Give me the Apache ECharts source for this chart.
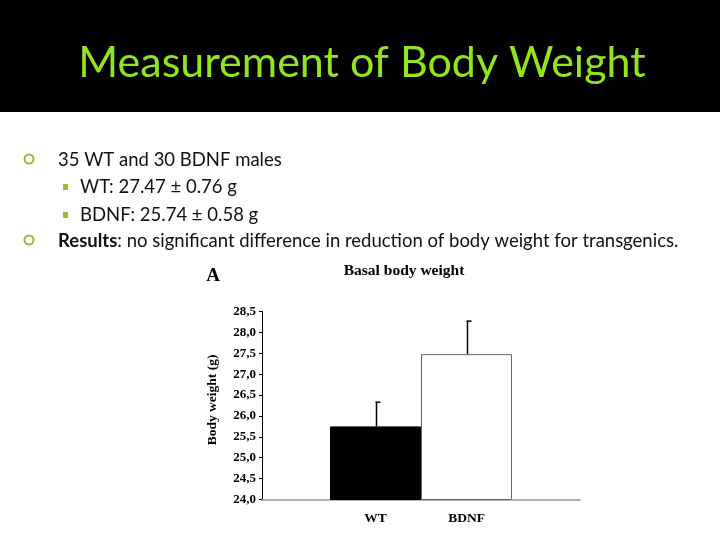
<!DOCTYPE html>
<html>
<head>
<meta charset="utf-8">
<script src="https://cdn.jsdelivr.net/npm/echarts@6/dist/echarts.min.js"></script>
<style>
  html, body { margin: 0; padding: 0; background: #fff; }
  #main { width: 720px; height: 540px; }
</style>
</head>
<body>
<div id="main"></div>
<script>
// 数据
const groups = ["WT", "BDNF"];
const meanWeight = [25.75, 27.48];
const errWeight = [0.58, 0.79];
const barColors = ["#000000", "#ffffff"];
const yTicks = [24.0, 24.5, 25.0, 25.5, 26.0, 26.5, 27.0, 27.5, 28.0, 28.5];

(() => {
  configWeightChart();
})();

// 配置体重柱状图
function configWeightChart() {
  const chart = echarts.init(document.getElementById("main"));
  const serif = "'Liberation Serif', 'DejaVu Serif', serif";
  const slideFont = "Lato, 'Open Sans', sans-serif";
  const bulletGreen = "#9cb83a";
  const bodyFont = "18.5px " + slideFont;

  const option = {
    backgroundColor: "#fff",
    animation: false,
    graphic: [
      // 标题栏
      { type: "rect", shape: { x: 0, y: 0, width: 720, height: 112 }, style: { fill: "#000" }, z: 0 },
      {
        type: "text", x: 362, y: 63,
        style: { text: "Measurement of Body Weight", font: "43px " + slideFont, fill: "#92e51c", align: "center", verticalAlign: "middle" },
      },
      // 要点
      { type: "circle", shape: { cx: 29, cy: 159, r: 4.5 }, style: { fill: "none", stroke: bulletGreen, lineWidth: 2 } },
      { type: "text", x: 58, y: 160, style: { text: "35 WT and 30 BDNF males", font: bodyFont, fill: "#111", verticalAlign: "middle" } },
      { type: "rect", shape: { x: 63, y: 184, width: 5, height: 6 }, style: { fill: bulletGreen } },
      { type: "text", x: 80, y: 187, style: { text: "WT: 27.47 ± 0.76 g", font: bodyFont, fill: "#111", verticalAlign: "middle" } },
      { type: "rect", shape: { x: 63, y: 212, width: 5, height: 6 }, style: { fill: bulletGreen } },
      { type: "text", x: 80, y: 215, style: { text: "BDNF: 25.74 ± 0.58 g", font: bodyFont, fill: "#111", verticalAlign: "middle" } },
      { type: "circle", shape: { cx: 29, cy: 240, r: 4.5 }, style: { fill: "none", stroke: bulletGreen, lineWidth: 2 } },
      {
        type: "text", x: 58, y: 241,
        style: {
          text: "{b|Results}: no significant difference in reduction of body weight for transgenics.",
          font: bodyFont, fill: "#111", verticalAlign: "middle",
          rich: { b: { font: "bold 18.5px " + slideFont, fill: "#111" } },
        },
      },
      // 图内文字
      { type: "text", x: 213, y: 276, style: { text: "A", font: "bold 19px " + serif, fill: "#000", align: "center", verticalAlign: "middle" } },
      { type: "text", x: 404, y: 271, style: { text: "Basal body weight", font: "bold 15.5px " + serif, fill: "#000", align: "center", verticalAlign: "middle" } },
      {
        type: "text", x: 213, y: 400, rotation: Math.PI / 2,
        style: { text: "Body weight (g)", font: "bold 13.5px " + serif, fill: "#000", align: "center", verticalAlign: "middle" },
      },
    ],
    grid: [
      { left: 262, right: 140, top: 311.5, bottom: 40.5 },
      { left: 330, right: 208, top: 311.5, bottom: 40.5 },
    ],
    xAxis: [
      {
        gridIndex: 0,
        type: "value",
        min: 0,
        max: 1,
        axisLine: { show: true, lineStyle: { color: "#b0b0b0", width: 2 } },
        axisTick: { show: false },
        axisLabel: { show: false },
        splitLine: { show: false },
      },
      {
        gridIndex: 1,
        type: "category",
        data: groups,
        axisLine: { show: false },
        axisTick: { show: false },
        axisLabel: { color: "#000", fontFamily: serif, fontWeight: "bold", fontSize: 13.5, margin: 12 },
      },
    ],
    yAxis: [
      {
        gridIndex: 0,
        type: "value",
        min: yTicks[0],
        max: yTicks[yTicks.length - 1],
        interval: 0.5,
        axisLine: { show: true, lineStyle: { color: "#000", width: 1 } },
        axisTick: { show: true, length: 3, lineStyle: { color: "#000" } },
        axisLabel: {
          color: "#000",
          fontFamily: serif,
          fontWeight: "bold",
          fontSize: 13,
          margin: 6,
          formatter: (v) => v.toFixed(1).replace(".", ","),
        },
        splitLine: { show: false },
      },
      {
        gridIndex: 1,
        type: "value",
        min: yTicks[0],
        max: yTicks[yTicks.length - 1],
        show: false,
      },
    ],
    series: [
      {
        type: "bar",
        xAxisIndex: 1,
        yAxisIndex: 1,
        barWidth: "100%",
        data: meanWeight.map((v, i) => ({
          value: v,
          itemStyle: { color: barColors[i], borderColor: i === 0 ? "#000" : "#666", borderWidth: 1 },
        })),
        z: 2,
      },
      {
        // 误差线
        type: "custom",
        xAxisIndex: 1,
        yAxisIndex: 1,
        data: meanWeight.map((v, i) => [i, v, v + errWeight[i]]),
        z: 3,
        renderItem: (params, api) => {
          const base = api.coord([api.value(0), api.value(1)]);
          const top = api.coord([api.value(0), api.value(2)]);
          const x = Math.round(base[0]) + 0.5;
          return {
            type: "group",
            children: [
              { type: "line", shape: { x1: x, y1: base[1], x2: x, y2: top[1] }, style: { stroke: "#000", lineWidth: 1.5 } },
              { type: "line", shape: { x1: x - 1, y1: top[1], x2: x + 4, y2: top[1] }, style: { stroke: "#000", lineWidth: 1.5 } },
            ],
          };
        },
      },
    ],
  };
  chart.setOption(option);
}
</script>
</body>
</html>
